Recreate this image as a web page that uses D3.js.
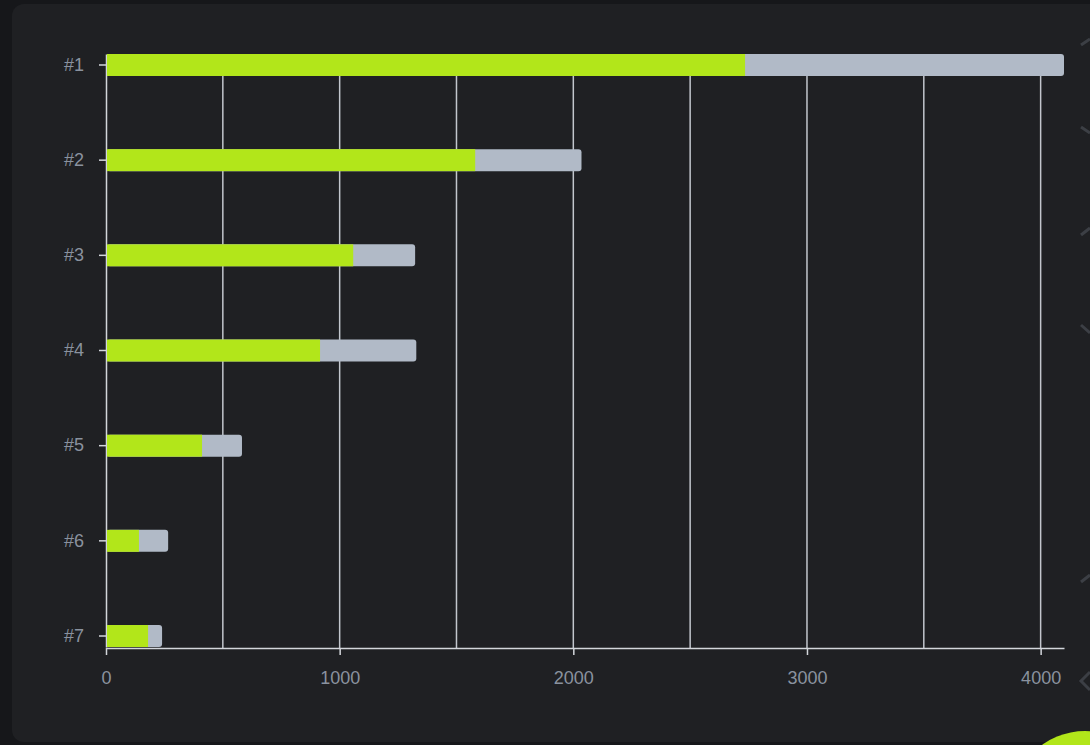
<!DOCTYPE html>
<html>
<head>
<meta charset="utf-8">
<script src="https://cdn.jsdelivr.net/npm/d3@7"></script>
<style>
  html, body { margin: 0; padding: 0; background: #16171a; overflow: hidden; }
  #chart { width: 1090px; height: 745px; }
  text { font-family: "Liberation Sans", Arial, sans-serif; }
</style>
</head>
<body>
<div id="chart"></div>
<script>
/* ===== DATA ===== */
const categories = ["#1", "#2", "#3", "#4", "#5", "#6", "#7"];
const greenValues = [2735, 1580, 1058, 916, 411, 141, 180];
const grayValues = [1365, 455, 265, 412, 171, 125, 60];
const xTicks = [0, 1000, 2000, 3000, 4000];
const gridTicks = [500, 1000, 1500, 2000, 2500, 3000, 3500, 4000];

const rows = categories.map((c, i) => ({
    cat: c,
    green: greenValues[i],
    total: greenValues[i] + grayValues[i]
}));

/* ===== SETUP ===== */
const width = 1090;
const height = 745;

const svg = d3.select("#chart")
    .append("svg")
    .attr("width", width)
    .attr("height", height);

// panel
svg.append("rect")
    .attr("x", 12)
    .attr("y", 4)
    .attr("width", 1110)
    .attr("height", 738)
    .attr("rx", 12)
    .attr("fill", "#1f2023");

const x = d3.scaleLinear()
    .domain([0, d3.max(rows, d => d.total)])
    .range([106, 1064]);

const y = d3.scaleBand()
    .domain(categories)
    .range([54, 647])
    .paddingInner(0.769)
    .paddingOuter(0);

const axisColor = "#d3d6db";
const labelColor = "#8a929f";

/* ===== GRID ===== */
svg.append("g")
    .selectAll("line")
    .data(gridTicks)
    .enter()
    .append("line")
    .attr("x1", d => x(d))
    .attr("x2", d => x(d))
    .attr("y1", 54)
    .attr("y2", 648)
    .attr("stroke", "#c2c6cd")
    .attr("stroke-width", 1.5);

/* ===== AXES ===== */
const xAxis = svg.append("g")
    .attr("transform", "translate(0,648)")
    .call(d3.axisBottom(x)
        .tickValues(xTicks)
        .tickFormat(d3.format("d"))
        .tickSize(7)
        .tickSizeOuter(0)
        .tickPadding(16));

const yAxis = svg.append("g")
    .attr("transform", "translate(106,0)")
    .call(d3.axisLeft(y).tickSize(7).tickSizeOuter(0).tickPadding(15));

[xAxis, yAxis].forEach(g => {
    g.select(".domain").attr("stroke", axisColor).attr("stroke-width", 1.5);
    g.selectAll(".tick line").attr("stroke", axisColor).attr("stroke-width", 1.5);
    g.selectAll(".tick text")
        .attr("fill", labelColor)
        .style("font-size", "18px");
});

/* ===== BARS ===== */
const bars = svg.append("g")
    .selectAll("g")
    .data(rows)
    .enter()
    .append("g");

bars.append("rect")
    .attr("x", x(0) + 1)
    .attr("y", d => y(d.cat))
    .attr("width", d => x(d.total) - x(0) - 1)
    .attr("height", y.bandwidth())
    .attr("rx", 3)
    .attr("fill", "#b1bac7");

bars.append("rect")
    .attr("x", x(0) + 1)
    .attr("y", d => y(d.cat))
    .attr("width", d => x(d.green) - x(0) - 1)
    .attr("height", y.bandwidth())
    .attr("fill", "#b2e61a");

/* ===== EDGE DECOR ===== */
const chevrons = [
    [[1081, 45], [1090, 39]],
    [[1081, 127], [1090, 133]],
    [[1081, 235], [1090, 228]],
    [[1081, 325], [1090, 333]],
    [[1081, 582], [1090, 575]],
    [[1090, 672], [1081, 681], [1090, 690]]
];
svg.append("g")
    .selectAll("path")
    .data(chevrons)
    .enter()
    .append("path")
    .attr("d", d => d3.line()(d))
    .attr("fill", "none")
    .attr("stroke", "#3c3f45")
    .attr("stroke-width", 3);

svg.append("circle")
    .attr("cx", 1085)
    .attr("cy", 804)
    .attr("r", 73)
    .attr("fill", "#b2e61a");
</script>
</body>
</html>
